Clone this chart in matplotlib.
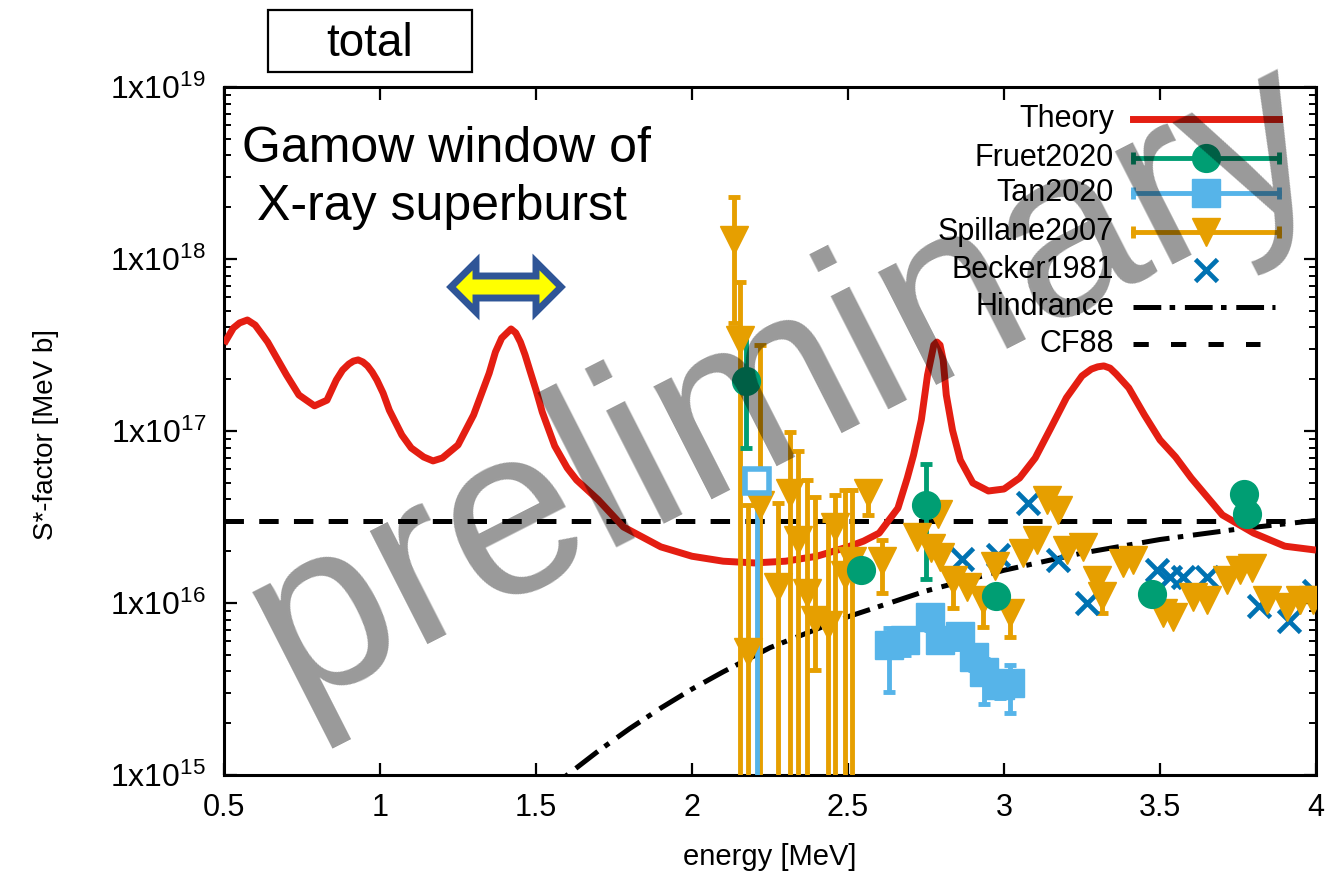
import numpy as np
import matplotlib
matplotlib.use("Agg")
import matplotlib.pyplot as plt
from matplotlib.patches import Polygon, Rectangle
from matplotlib.lines import Line2D
from matplotlib.transforms import Affine2D
from matplotlib.ticker import LogLocator, NullFormatter, FixedLocator

plt.rcParams['font.family'] = ['Liberation Sans', 'DejaVu Sans']
plt.rcParams['mathtext.fontset'] = 'custom'
plt.rcParams['mathtext.rm'] = 'Liberation Sans'
plt.rcParams['lines.scale_dashes'] = False

UNIT = 1e16  # S* values below are in units of 1e16 MeV b

# ---------------- theory curve ----------------
theory_e = [0.50, 0.53, 0.55, 0.575, 0.60, 0.64, 0.66, 0.70, 0.74, 0.79, 0.83, 0.86,
            0.88, 0.90, 0.915, 0.93, 0.945, 0.96, 0.975, 0.99, 1.01, 1.03, 1.07, 1.10,
            1.14, 1.17, 1.20, 1.25, 1.30, 1.35, 1.37, 1.39, 1.42, 1.435, 1.45, 1.465,
            1.48, 1.50, 1.52, 1.56, 1.60, 1.63, 1.70, 1.78, 1.90, 2.00, 2.10,
            2.20, 2.30, 2.40, 2.50, 2.55, 2.60, 2.66, 2.69, 2.71, 2.735, 2.755, 2.775,
            2.785, 2.795, 2.805, 2.815, 2.835, 2.86, 2.90, 2.95, 3.00, 3.05, 3.10,
            3.15, 3.20, 3.25, 3.28, 3.30, 3.32, 3.34, 3.36, 3.40, 3.45, 3.50, 3.55,
            3.60, 3.70, 3.80, 3.90, 4.00]
theory_s = [32.1, 39.7, 42.5, 44.2, 41.3, 32.9, 28.4, 21.2, 16.2, 14.0, 15.1, 19.8,
            22.6, 24.5, 25.5, 25.9, 25.2, 23.9, 22.0, 19.8, 16.6, 13.2, 9.48, 7.97,
            7.06, 6.70, 6.97, 8.29, 12.4, 21.7, 28.8, 34.7, 39.2, 37.2, 32.9, 27.7,
            22.6, 17.3, 12.9, 8.18, 6.10, 5.19, 3.97, 2.77, 2.12, 1.87, 1.75,
            1.71, 1.75, 1.87, 2.12, 2.29, 2.55, 3.56, 5.33, 7.24, 11.6, 21.2, 31.6,
            32.9, 31.6, 25.9, 16.2, 10.1, 6.78, 4.99, 4.48, 4.60, 5.33, 6.97,
            10.4, 15.6, 20.9, 22.9, 23.6, 23.9, 23.2, 21.4, 17.8, 12.4, 8.87, 7.06,
            5.33, 3.25, 2.55, 2.14, 2.03]

# ---------------- hindrance model and CF88 ----------------
hind_e = [1.50, 1.60, 1.70, 1.80, 1.90, 2.00, 2.10, 2.25, 2.50, 2.75, 3.00, 3.25, 3.50, 3.75, 4.00]
hind_s = [0.0708, 0.100, 0.138, 0.186, 0.245, 0.316, 0.398, 0.550, 0.832, 1.175, 1.55,
          1.95, 2.34, 2.69, 3.02]
cf88_e = [0.5, 4.0]
cf88_s = [3.0, 3.0]

# ---------------- Fruet2020 ----------------
fruet_e = [2.173, 2.542, 2.750, 2.974, 3.474, 3.769, 3.779]
fruet_s = [19.5, 1.56, 3.72, 1.10, 1.13, 4.30, 3.29]
fruet_lo = [7.96, 1.56, 1.38, 1.10, 1.13, 4.30, 3.29]
fruet_hi = [39.7, 1.56, 6.43, 1.10, 1.13, 4.30, 3.29]

# ---------------- Tan2020 ----------------
tan_open_e = [2.208]
tan_open_s = [5.12]
tan_open_lo = [0.01]
tan_open_hi = [5.12]
tan_e = [2.631, 2.683, 2.763, 2.795, 2.859, 2.904, 2.936, 2.987, 3.019]
tan_s = [0.570, 0.610, 0.830, 0.610, 0.643, 0.485, 0.397, 0.334, 0.343]
tan_lo = [0.304, 0.50, 0.70, 0.52, 0.54, 0.41, 0.259, 0.28, 0.229]
tan_hi = [0.72, 0.72, 0.97, 0.72, 0.76, 0.57, 0.47, 0.40, 0.437]

# ---------------- Spillane2007 ----------------
spil_e = [2.135, 2.153, 2.179, 2.218, 2.276, 2.314, 2.340, 2.369, 2.394, 2.436,
          2.458, 2.490, 2.513, 2.564, 2.609,
          2.721, 2.766, 2.788, 2.795, 2.837, 2.881, 2.933, 2.971, 3.019, 3.061,
          3.106, 3.138, 3.173, 3.202, 3.253, 3.298, 3.314, 3.381, 3.413, 3.510,
          3.542, 3.606, 3.651, 3.715, 3.756, 3.795, 3.843, 3.907, 3.949, 3.990]
spil_s = [129, 33.8, 0.519, 3.71, 1.24, 4.36, 2.32, 1.14, 0.80, 0.745,
          2.77, 1.46, 1.75, 4.36, 1.75,
          2.42, 2.09, 3.29, 1.85, 1.36, 1.24, 1.04, 1.64, 0.875, 1.95,
          2.32, 3.97, 3.47, 2.03, 2.12, 1.36, 1.10, 1.71, 1.78, 0.875,
          0.830, 1.08, 1.04, 1.36, 1.56, 1.60, 1.04, 0.948, 1.04, 1.04]
spil_lo = [42.5, 0.01, 0.01, 0.01, 0.01, 0.01, 0.01, 0.01, 0.408, 0.01,
           0.01, 0.01, 0.01, 3.25, 1.14,
           2.42, 2.09, 3.29, 1.85, 0.935, 1.24, 0.725, 1.64, 0.634, 1.95,
           2.32, 3.97, 3.47, 2.03, 2.12, 1.36, 0.875, 1.71, 1.78, 0.875,
           0.830, 1.08, 1.04, 1.36, 1.56, 1.60, 1.04, 0.948, 1.04, 1.04]
spil_hi = [229, 73.5, 3.71, 31.6, 3.81, 9.86, 7.65, 5.19, 4.13, 3.04,
           4.25, 4.54, 4.54, 5.05, 2.32,
           2.42, 2.09, 3.29, 1.85, 1.36, 1.24, 1.04, 1.64, 0.875, 1.95,
           2.32, 3.97, 3.47, 2.03, 2.12, 1.36, 1.10, 1.71, 1.78, 0.875,
           0.830, 1.08, 1.04, 1.36, 1.56, 1.60, 1.04, 0.948, 1.04, 1.04]

# ---------------- Becker1981 ----------------
becker_e = [2.865, 2.981, 3.077, 3.173, 3.266, 3.490, 3.532, 3.574, 3.651, 3.817, 3.913, 3.994]
becker_s = [1.80, 1.90, 3.81, 1.78, 1.00, 1.56, 1.42, 1.42, 1.42, 0.962, 0.785, 1.17]

# ---------------- axes settings ----------------
x_ticks = [0.5, 1, 1.5, 2, 2.5, 3, 3.5, 4]
x_tick_labels = ['0.5', '1', '1.5', '2', '2.5', '3', '3.5', '4']
y_ticks = [1e15, 1e16, 1e17, 1e18, 1e19]
y_tick_labels = [r'$\mathregular{1x10^{15}}$', r'$\mathregular{1x10^{16}}$',
                 r'$\mathregular{1x10^{17}}$', r'$\mathregular{1x10^{18}}$',
                 r'$\mathregular{1x10^{19}}$']

C_THEORY = '#e41e12'
C_FRUET = '#009e73'
C_TAN = '#56b4e9'
C_SPIL = '#e69f00'
C_BECK = '#0072b2'

W, H = 1329, 873
fig = plt.figure(figsize=(W / 100, H / 100), dpi=100)
# pixel coordinates with origin at the top-left corner of the figure
PIX = Affine2D().scale(1.0 / W, -1.0 / H).translate(0, 1) + fig.transFigure

ax = fig.add_axes([224 / W, 1 - 775 / H, (1316 - 224) / W, (775 - 87) / H])
ax.set_xlim(0.5, 4.0)
ax.set_yscale('log')
ax.set_ylim(1e15, 1e19)


def scaled(v):
    return np.asarray(v, dtype=float) * UNIT


# reference curves
ax.plot(cf88_e, scaled(cf88_s), color='black', lw=3.6, dashes=[14, 11], zorder=2)
ax.plot(hind_e, scaled(hind_s), color='black', lw=3.6, dashes=[20, 6, 4, 7], zorder=2)
ax.plot(theory_e, scaled(theory_s), color=C_THEORY, lw=5, zorder=3,
        solid_joinstyle='round', solid_capstyle='butt')

eb_kw = dict(elinewidth=3.5, capsize=4.5, capthick=3.5, linestyle='none', zorder=4)

# Spillane2007
s = scaled(spil_s)
ax.errorbar(spil_e, s, yerr=[s - scaled(spil_lo), scaled(spil_hi) - s], fmt='v',
            color=C_SPIL, ms=20, mec=C_SPIL, **eb_kw)

# Tan2020
s = scaled(tan_open_s)
ax.errorbar(tan_open_e, s, yerr=[s - scaled(tan_open_lo), scaled(tan_open_hi) - s],
            fmt='s', color=C_TAN, ms=17, mfc='white', mec=C_TAN, mew=4, **eb_kw)
s = scaled(tan_s)
ax.errorbar(tan_e, s, yerr=[s - scaled(tan_lo), scaled(tan_hi) - s], fmt='s',
            color=C_TAN, ms=20, mec=C_TAN, **eb_kw)

# Fruet2020
s = scaled(fruet_s)
ax.errorbar(fruet_e, s, yerr=[s - scaled(fruet_lo), scaled(fruet_hi) - s], fmt='o',
            color=C_FRUET, ms=20, mec=C_FRUET, **eb_kw)

# Becker1981
ax.plot(becker_e, scaled(becker_s), linestyle='none', marker='x', ms=16, mew=3.4,
        color=C_BECK, zorder=4)

# ticks and frame
ax.xaxis.set_major_locator(FixedLocator(x_ticks))
ax.set_xticklabels(x_tick_labels)
ax.yaxis.set_major_locator(FixedLocator(y_ticks))
ax.set_yticklabels(y_tick_labels)
ax.yaxis.set_minor_locator(LogLocator(base=10, subs=np.arange(2, 10)))
ax.yaxis.set_minor_formatter(NullFormatter())
ax.tick_params(axis='both', which='major', direction='in', length=9, width=1.6,
               top=True, right=True)
ax.tick_params(axis='x', which='major', pad=13, labelsize=22)
ax.tick_params(axis='y', which='major', pad=13, labelsize=23)
ax.tick_params(axis='y', which='minor', direction='in', length=5, width=1.4, right=True)
for sp in ax.spines.values():
    sp.set_linewidth(2.2)

fig.text(770, 857, 'energy [MeV]', transform=PIX, ha='center', va='center', fontsize=21)
fig.text(46, 435, 'S*-factor [MeV b]', transform=PIX, ha='center', va='center',
         fontsize=20, rotation=90)

# "total" label box
fig.add_artist(Rectangle((268, 10), 204, 62, transform=PIX, fill=False,
                         edgecolor='black', lw=1.6))
fig.text(370, 56, 'total', transform=PIX, ha='center', va='baseline', fontsize=33)

# Gamow window annotation
fig.text(447, 162, 'Gamow window of', transform=PIX, ha='center', va='baseline', fontsize=36)
fig.text(442, 220, 'X-ray superburst', transform=PIX, ha='center', va='baseline', fontsize=36)
arrow_pts = [(451, 287), (476, 262), (476, 276), (536, 276), (536, 262), (561, 287),
             (536, 312), (536, 298), (476, 298), (476, 312)]
fig.add_artist(Polygon(arrow_pts, closed=True, transform=PIX, facecolor='#ffff00',
                       edgecolor='#2f5597', lw=5, joinstyle='miter', zorder=5))

# legend, drawn entry by entry
leg_x0, leg_x1, leg_xm, leg_tx = 1133, 1279, 1206, 1114
legend_rows = [('Theory', 119), ('Fruet2020', 158), ('Tan2020', 193),
               ('Spillane2007', 232), ('Becker1981', 270), ('Hindrance', 307), ('CF88', 344)]
for label, y in legend_rows:
    fig.text(leg_tx, y, label, transform=PIX, ha='right', va='center', fontsize=22, zorder=6)


def add_line(xs, ys, **kw):
    fig.add_artist(Line2D(xs, ys, transform=PIX, zorder=6, **kw))


add_line([leg_x0, leg_x1], [119, 119], color=C_THEORY, lw=5)
for y, col, mk, ms in [(158, C_FRUET, 'o', 20), (193, C_TAN, 's', 20), (232, C_SPIL, 'v', 20)]:
    add_line([leg_x0, leg_x1], [y, y], color=col, lw=3.5)
    add_line([leg_x0, leg_x1], [y, y], color=col, lw=0, marker='|', ms=9, mew=3.5)
    add_line([leg_xm], [y], color=col, lw=0, marker=mk, ms=ms)
add_line([leg_xm], [270], color=C_BECK, lw=0, marker='x', ms=16, mew=3.4)
add_line([leg_x0, 1275], [307, 307], color='black', lw=3.6, dashes=[20, 6, 4, 7])
add_line([leg_x0, 1260], [344, 344], color='black', lw=3.6, dashes=[11, 16])

# watermark
fig.text(786, 384, 'preliminary', transform=PIX, ha='center', va='center',
         rotation=27, rotation_mode='anchor', fontsize=172, color='black', alpha=0.4,
         zorder=20)

fig.savefig('out.png', dpi=100)
